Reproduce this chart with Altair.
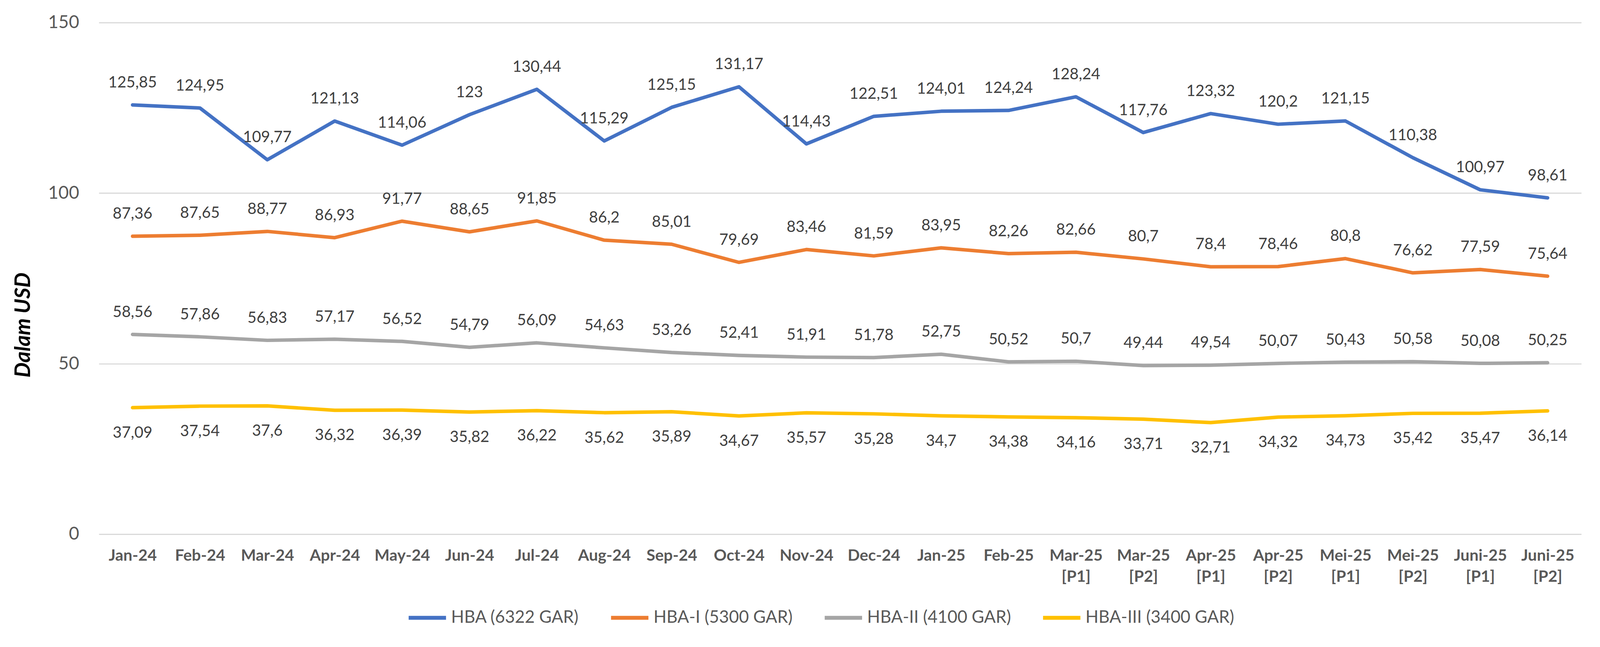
import altair as alt
import pandas as pd

categories = [
    "Jan-24", "Feb-24", "Mar-24", "Apr-24", "May-24", "Jun-24", "Jul-24",
    "Aug-24", "Sep-24", "Oct-24", "Nov-24", "Dec-24", "Jan-25", "Feb-25",
    "Mar-25 [P1]", "Mar-25 [P2]", "Apr-25 [P1]", "Apr-25 [P2]",
    "Mei-25 [P1]", "Mei-25 [P2]", "Juni-25 [P1]", "Juni-25 [P2]",
]
series_names = ["HBA (6322 GAR)", "HBA-I (5300 GAR)", "HBA-II (4100 GAR)", "HBA-III (3400 GAR)"]
hba = [125.85, 124.95, 109.77, 121.13, 114.06, 123, 130.44, 115.29, 125.15, 131.17, 114.43,
       122.51, 124.01, 124.24, 128.24, 117.76, 123.32, 120.2, 121.15, 110.38, 100.97, 98.61]
hba_1 = [87.36, 87.65, 88.77, 86.93, 91.77, 88.65, 91.85, 86.2, 85.01, 79.69, 83.46,
         81.59, 83.95, 82.26, 82.66, 80.7, 78.4, 78.46, 80.8, 76.62, 77.59, 75.64]
hba_2 = [58.56, 57.86, 56.83, 57.17, 56.52, 54.79, 56.09, 54.63, 53.26, 52.41, 51.91,
         51.78, 52.75, 50.52, 50.7, 49.44, 49.54, 50.07, 50.43, 50.58, 50.08, 50.25]
hba_3 = [37.09, 37.54, 37.6, 36.32, 36.39, 35.82, 36.22, 35.62, 35.89, 34.67, 35.57,
         35.28, 34.7, 34.38, 34.16, 33.71, 32.71, 34.32, 34.73, 35.42, 35.47, 36.14]
colors = ["#4472C4", "#ED7D31", "#A5A5A5", "#FFC000"]
y_ticks = [0, 50, 100, 150]

rows = []
for name, vals in zip(series_names, [hba, hba_1, hba_2, hba_3]):
    for c, v in zip(categories, vals):
        rows.append({
            "cat": c,
            "series": name,
            "value": v,
            "label": f"{v:g}".replace(".", ","),
            "below": name == series_names[3],
        })
df = pd.DataFrame(rows)

FONT = "Lato"

x_enc = alt.X(
    "cat:N", sort=categories, title=None,
    scale=alt.Scale(type="point", padding=0.5),
    axis=alt.Axis(
        labelAngle=0, labelFontSize=41, labelFontWeight="bold", labelColor="#595959",
        labelFont=FONT, labelPadding=36, labelLineHeight=54,
        labelExpr="split(datum.label, ' ')", ticks=False, domain=False, grid=False,
    ),
)
y_enc = alt.Y(
    "value:Q",
    scale=alt.Scale(domain=[0, 150], nice=False),
    axis=alt.Axis(
        values=y_ticks, title="Dalam USD", titleFont=FONT, titleFontSize=55,
        titleFontStyle="italic", titleFontWeight="bold", titleColor="#000000",
        titleAngle=270, titleX=-194, titleY=777, titleAlign="center", titleBaseline="middle",
        labelFont=FONT, labelFontSize=46, labelColor="#595959", labelPadding=51,
        ticks=False, domain=False, gridColor="#D9D9D9", gridWidth=3,
    ),
)
color_enc = alt.Color(
    "series:N",
    scale=alt.Scale(domain=series_names, range=colors),
    legend=alt.Legend(
        title=None, orient="none", legendX=791, legendY=1477, direction="horizontal",
        symbolType="stroke", symbolSize=9216, symbolStrokeWidth=10,
        labelFont=FONT, labelFontSize=44, labelColor="#595959", labelLimit=1000,
        columnPadding=62, labelOffset=8, padding=0,
    ),
)

base = alt.Chart(df)
lines = base.mark_line(strokeWidth=9, strokeCap="round", strokeJoin="round").encode(
    x=x_enc, y=y_enc, color=color_enc, detail="series:N"
)
labels_above = base.transform_filter("!datum.below").mark_text(
    dy=-45, baseline="alphabetic", align="center", fontSize=40, font=FONT, color="#404040"
).encode(x=alt.X("cat:N", sort=categories), y="value:Q", text="label:N")
labels_below = base.transform_filter("datum.below").mark_text(
    dy=77, baseline="alphabetic", align="center", fontSize=40, font=FONT, color="#404040"
).encode(x=alt.X("cat:N", sort=categories), y="value:Q", text="label:N")

chart = alt.layer(lines, labels_above, labels_below).properties(
    width=3809, height=1315,
    autosize=alt.AutoSizeParams(type="none"),
    padding={"left": 246, "top": 47, "right": 40, "bottom": 280},
    background="#FFFFFF",
).configure_view(stroke=None)

chart.save("out.html", embed_options={"renderer": "svg", "actions": False})
